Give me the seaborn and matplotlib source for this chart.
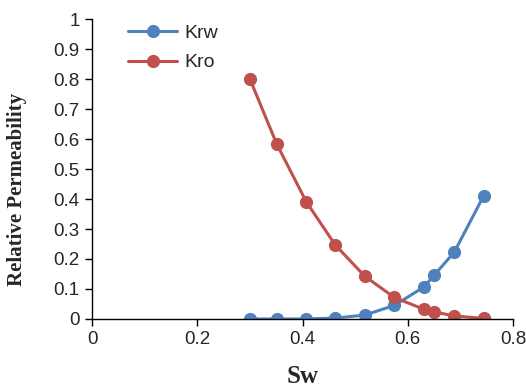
import pandas as pd
import matplotlib.pyplot as plt
import seaborn as sns

# values
sw = [0.300, 0.351, 0.407, 0.462, 0.518, 0.574, 0.631, 0.650, 0.688, 0.744]
krw = [0.000, 0.000, 0.000, 0.003, 0.013, 0.045, 0.107, 0.146, 0.222, 0.410]
kro = [0.800, 0.583, 0.391, 0.247, 0.143, 0.072, 0.032, 0.024, 0.010, 0.002]

df = pd.concat([
    pd.DataFrame({'Sw': sw, 'Kr': krw, 'series': 'Krw'}),
    pd.DataFrame({'Sw': sw, 'Kr': kro, 'series': 'Kro'}),
])

sns.set_style('white')
plt.rcParams['font.family'] = ['Liberation Sans', 'DejaVu Sans']

fig = plt.figure(figsize=(5.26, 3.89), dpi=100)
ax = fig.add_axes([0.175, 0.18, 0.8004, 0.771])

sns.lineplot(data=df, x='Sw', y='Kr', hue='series', marker='o',
             palette={'Krw': '#4F81BD', 'Kro': '#C0504D'},
             linewidth=2.2, markersize=9.5, markeredgewidth=0, ax=ax)

ax.set_xlim(0, 0.8)
ax.set_ylim(0, 1)
ax.set_xticks([0, 0.2, 0.4, 0.6, 0.8])
ax.set_xticklabels(['0', '0.2', '0.4', '0.6', '0.8'])
ax.set_yticks([i / 10 for i in range(11)])
ax.set_yticklabels(['0'] + ['0.%d' % i for i in range(1, 10)] + ['1'])
ax.tick_params(axis='both', labelsize=13.5, direction='out', length=5, width=1,
               color='black', left=True, bottom=True, pad=4)

for side in ['top', 'right']:
    ax.spines[side].set_visible(False)
for side in ['left', 'bottom']:
    ax.spines[side].set_color('black')
    ax.spines[side].set_linewidth(1)

ax.set_xlabel('Sw', fontsize=18, fontweight='bold', family='Liberation Serif')
ax.set_ylabel('Relative Permeability', fontsize=15, fontweight='bold',
              family='Liberation Serif')
ax.xaxis.set_label_coords(0.5, -0.155)
ax.yaxis.set_label_coords(-0.155, 0.433)

ax.legend(title=None, frameon=False, fontsize=14, loc='upper left',
          bbox_to_anchor=(0.045, 1.04), handlelength=2.5, labelspacing=0.6,
          handletextpad=0.35)

fig.savefig('out.png', dpi=100)
